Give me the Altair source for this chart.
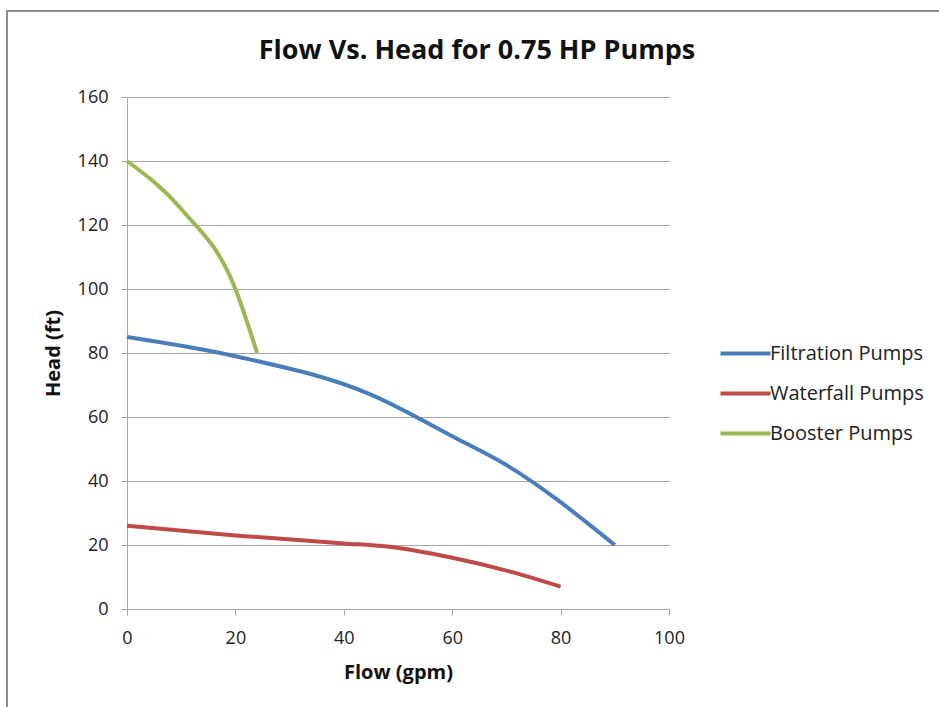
import altair as alt
import pandas as pd

# Pump performance curves: flow (gpm) vs. head (ft)
filtration_flow = [0, 20, 45, 60, 70, 90]
filtration_head = [85, 79, 67, 54, 45, 20]

waterfall_flow = [0, 20, 40, 48, 60, 70, 80]
waterfall_head = [26, 23, 20.5, 19.5, 16, 12, 7]

booster_flow = [0, 10, 20, 24]
booster_head = [140, 125, 100, 80]

series_names = ["Filtration Pumps", "Waterfall Pumps", "Booster Pumps"]
series_colors = ["#4A7EBB", "#BE4B48", "#98B954"]

x_ticks = [0, 20, 40, 60, 80, 100]
y_ticks = [0, 20, 40, 60, 80, 100, 120, 140, 160]

rows = []
for name, flows, heads in [
    (series_names[0], filtration_flow, filtration_head),
    (series_names[1], waterfall_flow, waterfall_head),
    (series_names[2], booster_flow, booster_head),
]:
    for i, (f, h) in enumerate(zip(flows, heads)):
        rows.append({"series": name, "flow": f, "head": h, "order": i})
df = pd.DataFrame(rows)

FONT = "Open Sans"
GRAY = "#A6A6A6"

lines = alt.Chart(df).mark_line(strokeWidth=4, interpolate="monotone").encode(
    x=alt.X(
        "flow:Q",
        scale=alt.Scale(domain=[0, 100], nice=False),
        axis=alt.Axis(
            title="Flow (gpm)",
            values=x_ticks,
            grid=False,
            domainColor=GRAY,
            tickColor=GRAY,
            tickSize=6,
            labelFlush=False,
            labelPadding=14,
            titlePadding=15,
        ),
    ),
    y=alt.Y(
        "head:Q",
        scale=alt.Scale(domain=[0, 160], nice=False),
        axis=alt.Axis(
            title="Head (ft)",
            values=y_ticks,
            gridColor=GRAY,
            domainColor=GRAY,
            tickColor=GRAY,
            tickSize=6,
            labelPadding=13,
            titlePadding=14,
        ),
    ),
    color=alt.Color(
        "series:N",
        scale=alt.Scale(domain=series_names, range=series_colors),
        sort=series_names,
        legend=alt.Legend(
            title=None,
            orient="none",
            legendX=604,
            legendY=242,
            symbolType="M-2,0H2",
            symbolSize=625,
            symbolStrokeWidth=4,
            labelOffset=10,
            rowPadding=15,
            labelFontSize=20,
            labelFont=FONT,
            labelColor="#222222",
            padding=0,
        ),
    ),
    order="order:Q",
)

# Outer frame around the chart
frame = alt.Chart(pd.DataFrame({"k": [0]})).mark_rect(
    fill=None, stroke="#8C8C8C", strokeWidth=2
).encode(
    x=alt.value(-120),
    x2=alt.value(830),
    y=alt.value(-86),
    y2=alt.value(640),
)

chart = alt.layer(frame, lines).properties(
    width=542,
    height=512,
    padding={"left": 127, "top": 97, "right": 270, "bottom": 98},
    autosize=alt.AutoSizeParams(type="none"),
    background="white",
    title=alt.Title(
        "Flow Vs. Head for 0.75 HP Pumps",
        font=FONT,
        fontSize=27,
        fontWeight="bold",
        color="#111111",
        anchor="middle",
        baseline="middle",
        dx=79,
        offset=-68,
    ),
).configure_axis(
    labelFont=FONT,
    labelFontSize=18,
    labelColor="#222222",
    titleFont=FONT,
    titleFontSize=20,
    titleFontWeight="bold",
    titleColor="#111111",
).configure_view(
    stroke=None
)

chart.save("out.html", embed_options={"renderer": "svg", "actions": False})
